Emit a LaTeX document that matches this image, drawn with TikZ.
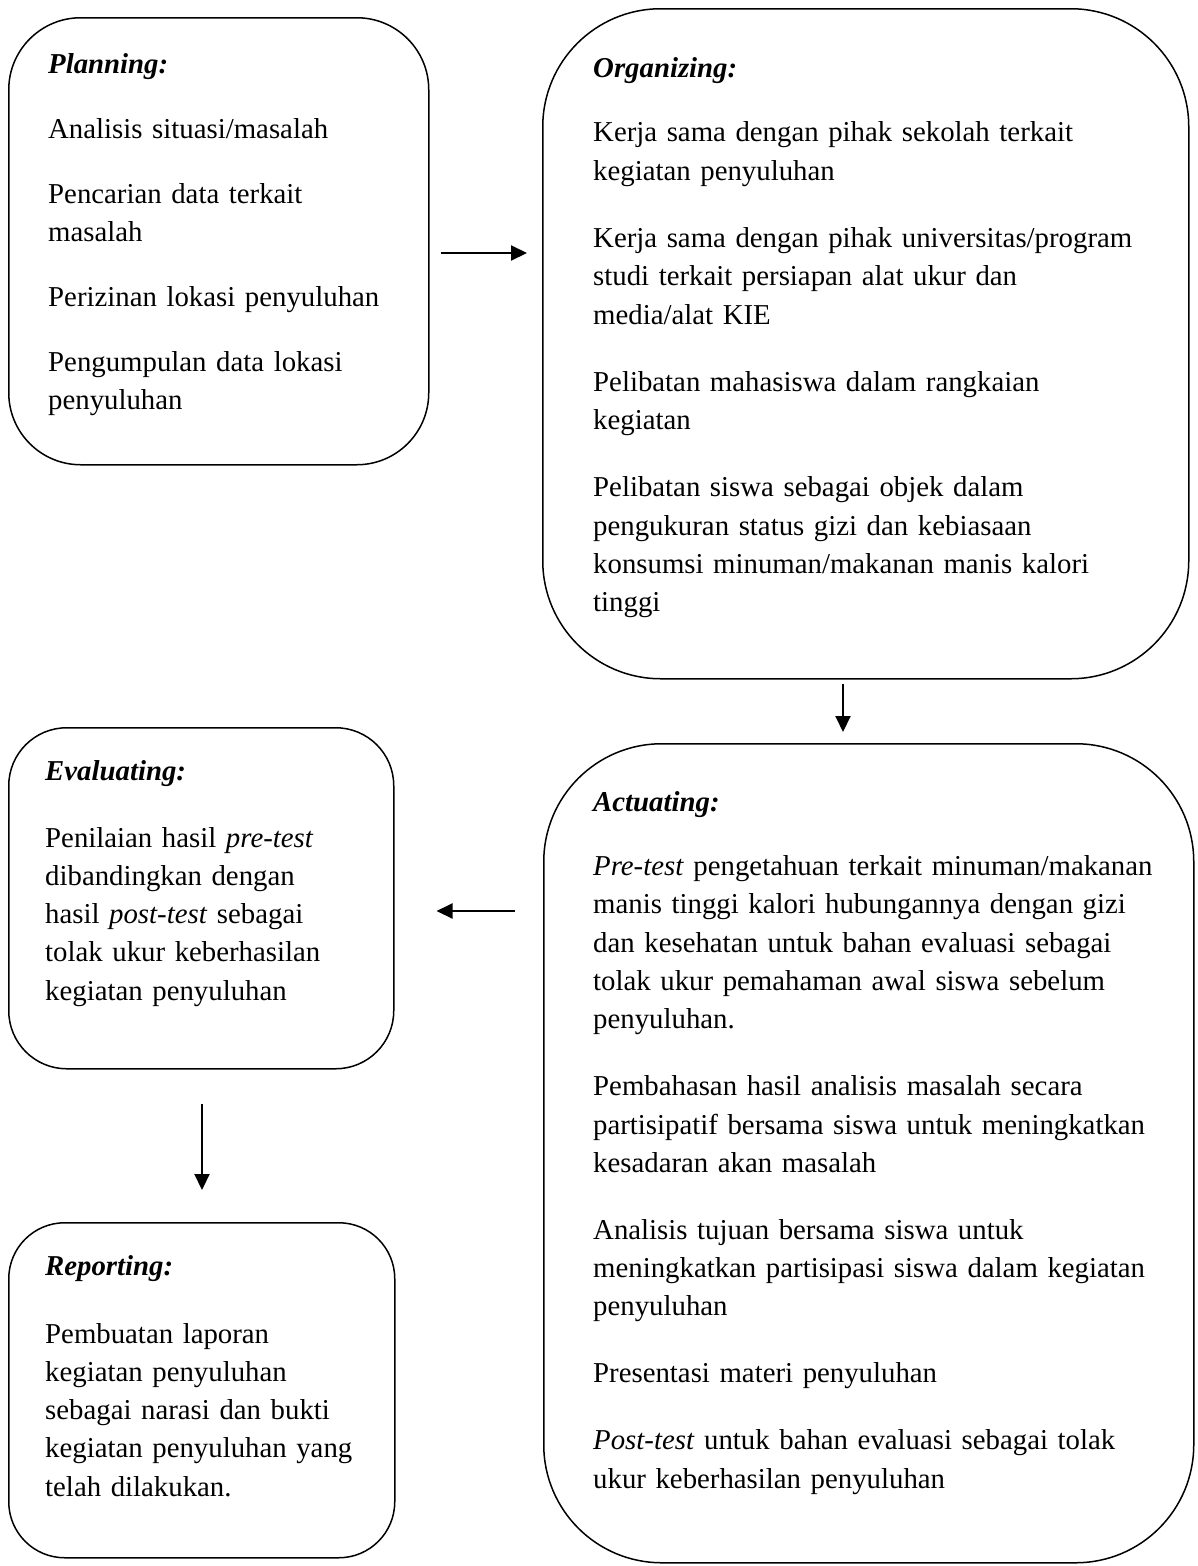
\documentclass[tikz,border=0pt]{standalone}
\usepackage{fontspec}
\setmainfont{Liberation Serif}
\usetikzlibrary{arrows.meta}
\begin{document}
\begin{tikzpicture}[x=1pt,y=-1pt,
  boxshape/.style={draw, line width=1.5pt, inner sep=0pt, anchor=north west},
  boxtext/.style={anchor=base west, inner sep=0pt, align=left, font=\fontsize{28.8}{38.3}\selectfont},
  conn/.style={line width=2pt, -{Triangle[length=16pt,width=15pt]}}]
\useasboundingbox (0,0) rectangle (1198,1566);
% boxes
\node[boxshape, rounded corners=72pt, minimum width=420pt, minimum height=447pt] (plan) at (8,17) {};
\node[boxshape, rounded corners=118pt, minimum width=646pt, minimum height=670pt] (org) at (542,8) {};
\node[boxshape, rounded corners=58pt, minimum width=385pt, minimum height=341pt] (eval) at (8,727) {};
\node[boxshape, rounded corners=118pt, minimum width=650pt, minimum height=819pt] (act) at (543,743) {};
\node[boxshape, rounded corners=56pt, minimum width=386pt, minimum height=335pt] (rep) at (8,1222) {};
% texts
\node[boxtext, text width=375pt] (plantext) at (48,73) {\textbf{\textit{Planning:}}\\[26.7pt]
Analisis situasi/masalah\\[26.7pt]
Pencarian data terkait\\
masalah\\[26.7pt]
Perizinan lokasi penyuluhan\\[26.7pt]
Pengumpulan data lokasi\\
penyuluhan};
\node[boxtext, text width=590pt] (orgtext) at (593,77) {\textbf{\textit{Organizing:}}\\[26.5pt]
Kerja sama dengan pihak sekolah terkait\\
kegiatan penyuluhan\\[29pt]
Kerja sama dengan pihak universitas/program\\
studi terkait persiapan alat ukur dan\\
media/alat KIE\\[29pt]
Pelibatan mahasiswa dalam rangkaian\\
kegiatan\\[29pt]
Pelibatan siswa sebagai objek dalam\\
pengukuran status gizi dan kebiasaan\\
konsumsi minuman/makanan manis kalori\\
tinggi};
\node[boxtext, text width=345pt] (evaltext) at (45,780) {\textbf{\textit{Evaluating:}}\\[28.7pt]
Penilaian hasil \textit{pre-test}\\
dibandingkan dengan\\
hasil \textit{post-test} sebagai\\
tolak ukur keberhasilan\\
kegiatan penyuluhan};
\node[boxtext, text width=595pt] (acttext) at (593,811) {\textbf{\textit{Actuating:}}\\[26.2pt]
\textit{Pre-test} pengetahuan terkait minuman/makanan\\
manis tinggi kalori hubungannya dengan gizi\\
dan kesehatan untuk bahan evaluasi sebagai\\
tolak ukur pemahaman awal siswa sebelum\\
penyuluhan.\\[28.7pt]
Pembahasan hasil analisis masalah secara\\
partisipatif bersama siswa untuk meningkatkan\\
kesadaran akan masalah\\[28.7pt]
Analisis tujuan bersama siswa untuk\\
meningkatkan partisipasi siswa dalam kegiatan\\
penyuluhan\\[28.7pt]
Presentasi materi penyuluhan\\[28.7pt]
\textit{Post-test} untuk bahan evaluasi sebagai tolak\\
ukur keberhasilan penyuluhan};
\node[boxtext, text width=345pt] (reptext) at (45,1275) {\textbf{\textit{Reporting:}}\\[29.7pt]
Pembuatan laporan\\
kegiatan penyuluhan\\
sebagai narasi dan bukti\\
kegiatan penyuluhan yang\\
telah dilakukan.};
% connectors
\coordinate (y1) at (0,253);
\coordinate (x2) at (843,0);
\coordinate (y3) at (0,911);
\coordinate (x4) at (202,0);
\draw[conn, shorten <=11pt, shorten >=15pt] (plan.east |- y1) -- (org.west |- y1);
\draw[conn, shorten <=4pt, shorten >=11pt] (org.south -| x2) -- (act.north -| x2);
\draw[conn, shorten <=28pt, shorten >=42pt] (act.west |- y3) -- (eval.east |- y3);
\draw[conn, shorten <=34pt, shorten >=32pt] (eval.south -| x4) -- (rep.north -| x4);
\end{tikzpicture}
\end{document}
